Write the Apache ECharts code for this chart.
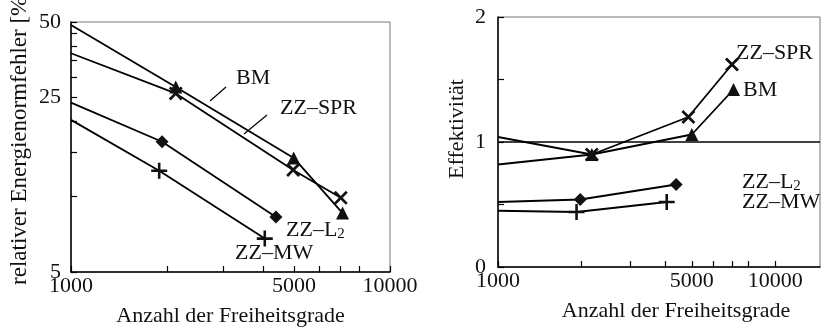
<!DOCTYPE html>
<html>
<head>
<meta charset="utf-8">
<script src="https://cdn.jsdelivr.net/npm/echarts@6/dist/echarts.min.js"></script>
<style>
  html, body { margin: 0; padding: 0; background: #fff; }
  #chart { width: 821px; height: 330px; }
</style>
</head>
<body>
<div id="chart"></div>
<script>
// left panel: relative energy-norm error [%] over degrees of freedom (log-log)
var errBM_N   = [1000, 2130, 4990, 7100];
var errBM     = [48.6, 27.5, 14.3, 8.6];
var errSPR_N  = [1000, 2130, 4970, 7010];
var errSPR    = [37.5, 25.9, 12.8, 9.9];
var errL2_N   = [1000, 1930, 4390];
var errL2     = [23.8, 16.6, 8.3];
var errMW_N   = [1000, 1890, 4050];
var errMW     = [20.3, 12.7, 6.8];

// right panel: effectivity index
var effSPR_N  = [1000, 2180, 4860, 6980];
var effSPR    = [1.04, 0.90, 1.20, 1.62];
var effBM_N   = [1000, 2180, 5000, 7070];
var effBM     = [0.82, 0.90, 1.06, 1.42];
var effL2_N   = [1000, 1980, 4390];
var effL2     = [0.52, 0.54, 0.66];
var effMW_N   = [1000, 1920, 4060];
var effMW     = [0.45, 0.44, 0.52];

var xTicks      = [1000, 2000, 3000, 4000, 5000, 6000, 7000, 8000, 10000];
var xLabels     = [1000, 5000, 10000];
var errTicks    = [5, 10, 15, 20, 25, 30, 35, 40, 45, 50];
var errLabels   = [5, 25, 50];
var effTicks    = [0, 0.5, 1, 1.5, 2];
var effLabels   = [0, 1, 2];

var FONT = 'Liberation Serif';
var FS = 22;
var PLUS = 'path://M4.2,0 H5.8 V4.2 H10 V5.8 H5.8 V10 H4.2 V5.8 H0 V4.2 H4.2 Z';
var TICK = { color: '#000', width: 1.2 };

var myChart = echarts.init(document.getElementById('chart'));

// first point of every curve sits on the left border, drawn without marker
function pts(xs, ys) {
    return xs.map(function (x, i) {
        var item = { value: [x, ys[i]] };
        if (i === 0) item.symbol = 'none';
        return item;
    });
}

function line(name, xi, yi, xs, ys, symbol, size, rotate) {
    return {
        name: name,
        type: 'line',
        xAxisIndex: xi,
        yAxisIndex: yi,
        data: pts(xs, ys),
        symbol: symbol,
        symbolSize: size,
        symbolRotate: rotate || 0,
        showAllSymbol: true,
        lineStyle: { color: '#000', width: 1.8 },
        itemStyle: { color: '#111' },
        z: 3
    };
}

function plain(v) { return String(v); }

function xAxisCfg(gi, max) {
    return {
        type: 'log', gridIndex: gi, min: 1000, max: max, logBase: 10,
        name: 'Anzahl der Freiheitsgrade', nameLocation: 'middle', nameGap: 33,
        nameTextStyle: { fontFamily: FONT, fontSize: FS, color: '#111', padding: gi === 1 ? [0, 0, 0, 34] : 0 },
        axisLine: { lineStyle: { color: '#000', width: 1.5 } },
        axisTick: { show: true, inside: true, length: 6, customValues: xTicks, lineStyle: TICK },
        axisLabel: { customValues: xLabels, formatter: plain, fontFamily: FONT, fontSize: FS, color: '#111', margin: 3 },
        splitLine: { show: false }, minorTick: { show: false }
    };
}

var lblStyle = { fontFamily: FONT, fontSize: FS, fill: '#111' };
function txt(x, y, s) {
    return { type: 'text', x: x, y: y, style: Object.assign({ text: s, verticalAlign: 'middle' }, lblStyle) };
}
function subTxt(x, y) {
    return {
        type: 'text', x: x, y: y,
        style: {
            text: '{a|ZZ–L}{b|2}', verticalAlign: 'middle', fill: '#111',
            rich: {
                a: { fontFamily: FONT, fontSize: FS, lineHeight: 22 },
                b: { fontFamily: FONT, fontSize: 15, lineHeight: 22, padding: [8, 0, 0, 0] }
            }
        }
    };
}
function lead(x1, y1, x2, y2) {
    return { type: 'line', shape: { x1: x1, y1: y1, x2: x2, y2: y2 }, style: { stroke: '#000', lineWidth: 1.2 } };
}

var option = {
    animation: false,
    backgroundColor: '#fff',
    textStyle: { fontFamily: FONT },
    grid: [
        { left: 71, top: 22, width: 319, height: 250, show: true, borderColor: '#777', borderWidth: 1, outerBoundsMode: 'none', containLabel: false },
        { left: 498, top: 17, width: 322, height: 250, show: true, borderColor: '#777', borderWidth: 1, outerBoundsMode: 'none', containLabel: false }
    ],
    xAxis: [xAxisCfg(0, 10000), xAxisCfg(1, 14500)],
    yAxis: [
        {
            type: 'log', gridIndex: 0, min: 5, max: 50, logBase: 10,
            name: 'relativer Energienormfehler [%]', nameLocation: 'middle', nameGap: 40, nameRotate: 90,
            nameTextStyle: { fontFamily: FONT, fontSize: 23, color: '#111', padding: [0, 0, 0, 20] },
            axisLine: { lineStyle: { color: '#000', width: 1.5 } },
            axisTick: { show: true, inside: true, length: 6, customValues: errTicks, lineStyle: TICK },
            axisLabel: { customValues: errLabels, formatter: plain, fontFamily: FONT, fontSize: FS, color: '#111', margin: 10 },
            splitLine: { show: false }, minorTick: { show: false }
        },
        {
            type: 'value', gridIndex: 1, min: 0, max: 2, interval: 0.5,
            name: 'Effektivität', nameLocation: 'middle', nameGap: 30, nameRotate: 90,
            nameTextStyle: { fontFamily: FONT, fontSize: FS, color: '#111', padding: [0, 0, 0, 26] },
            axisLine: { show: true, lineStyle: { color: '#000', width: 1.5 } },
            axisTick: { show: true, inside: true, length: 6, customValues: effTicks, lineStyle: TICK },
            axisLabel: { customValues: effLabels, formatter: plain, fontFamily: FONT, fontSize: FS, color: '#111', margin: 12 },
            splitLine: { show: false }
        }
    ],
    series: [
        line('BM', 0, 0, errBM_N, errBM, 'triangle', 13),
        line('ZZ-SPR', 0, 0, errSPR_N, errSPR, PLUS, 17, 45),
        line('ZZ-L2', 0, 0, errL2_N, errL2, 'diamond', 13),
        line('ZZ-MW', 0, 0, errMW_N, errMW, PLUS, 16),
        Object.assign(line('BM', 1, 1, effBM_N, effBM, 'triangle', 13), {
            markLine: {
                silent: true, symbol: 'none', label: { show: false },
                lineStyle: { color: '#000', width: 1.5, type: 'solid' },
                data: [{ yAxis: 1 }]
            }
        }),
        line('ZZ-SPR', 1, 1, effSPR_N, effSPR, PLUS, 17, 45),
        line('ZZ-L2', 1, 1, effL2_N, effL2, 'diamond', 13),
        line('ZZ-MW', 1, 1, effMW_N, effMW, PLUS, 16)
    ],
    graphic: [
        txt(236, 78, 'BM'), lead(210, 101, 226, 87),
        txt(280, 108, 'ZZ–SPR'), lead(244, 134, 267, 115),
        subTxt(286, 230),
        txt(235, 253, 'ZZ–MW'),
        txt(736, 53, 'ZZ–SPR'),
        txt(743, 90, 'BM'),
        subTxt(742, 182),
        txt(742, 202, 'ZZ–MW')
    ]
};

myChart.setOption(option);
</script>
</body>
</html>
